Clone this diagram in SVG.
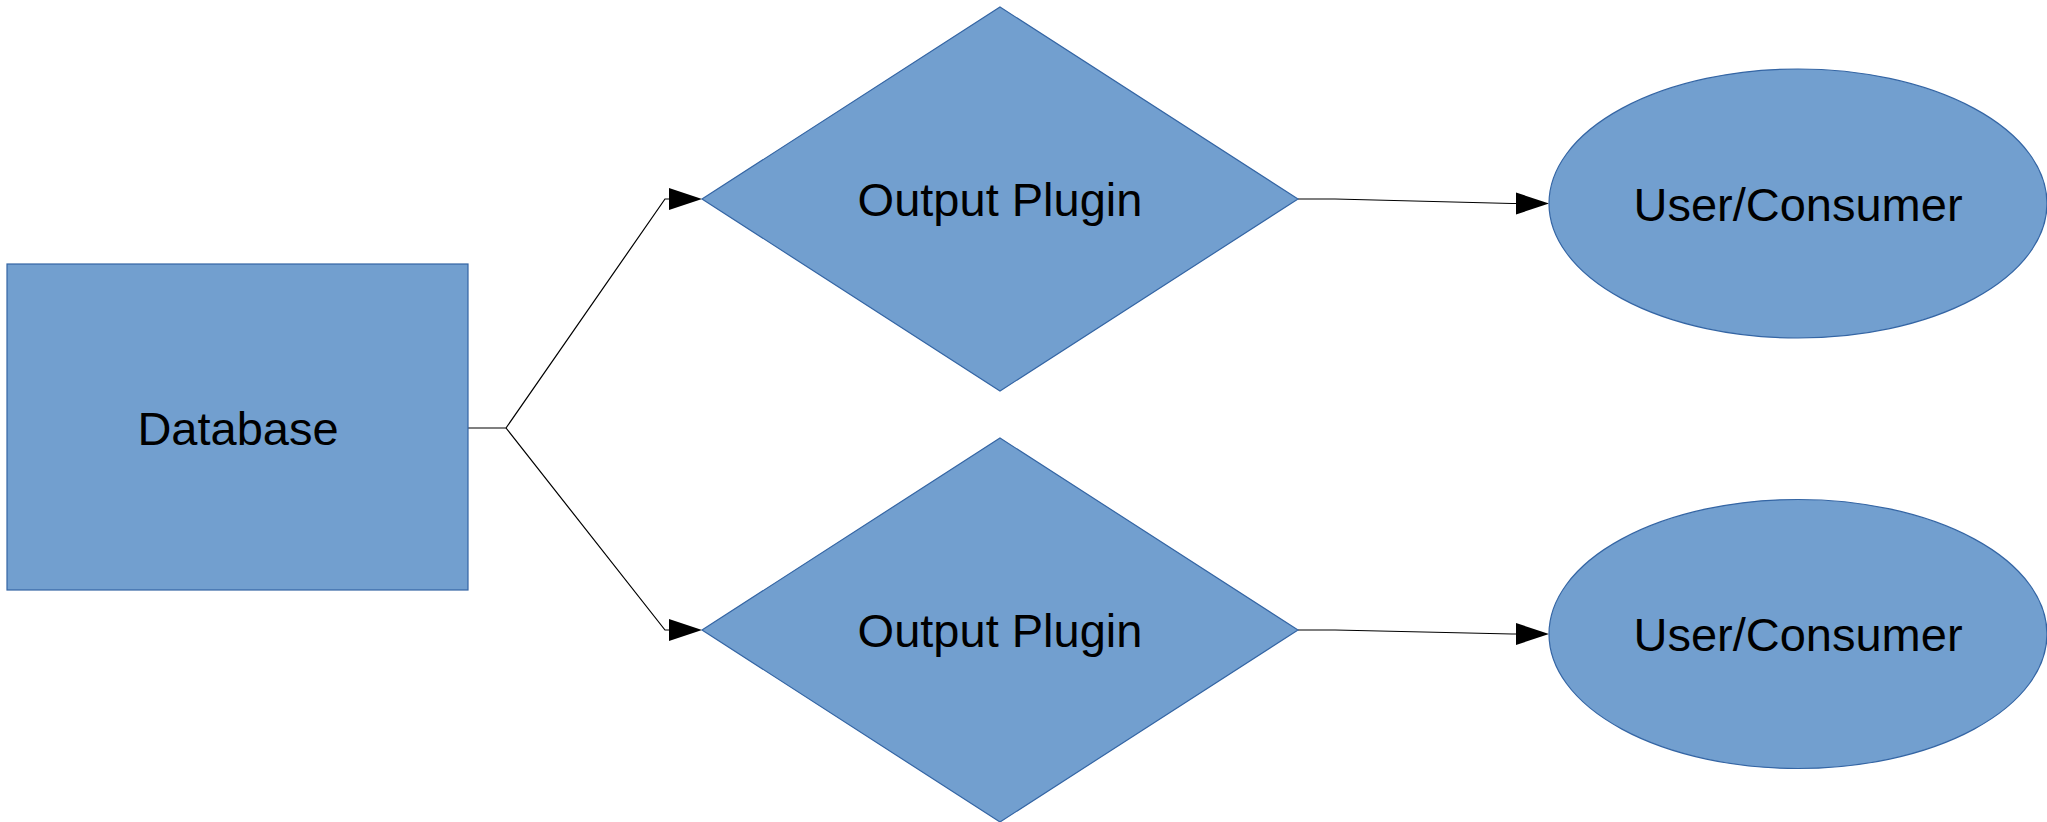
<svg xmlns="http://www.w3.org/2000/svg" width="2047" height="822" viewBox="0 0 2047 822">
  <style>
    .shape { fill: #729fcf; stroke: #3465a4; stroke-width: 1.2; }
    .label { font-family: "Liberation Sans", Arial, sans-serif; font-size: 47px; fill: #000; text-anchor: middle; }
    .conn { fill: none; stroke: #000; stroke-width: 1.2; stroke-linejoin: miter; }
  </style>
  <defs>
    <marker id="arrow" markerUnits="userSpaceOnUse" markerWidth="34" markerHeight="24" refX="0" refY="11" orient="auto" overflow="visible">
      <path d="M0,0 L33,11 L0,22 Z" fill="#000"/>
    </marker>
  </defs>
  <rect width="2047" height="822" fill="#fff"/>

  <g id="connectors">
    <path class="conn" d="M468,428 L506,428 L665,199 L669,199" marker-end="url(#arrow)"/>
    <path class="conn" d="M506,428 L665,630 L669,630"  marker-end="url(#arrow)"/>
    <path class="conn" d="M1298,199 L1335,199 L1512,203.5 L1516,203.5" marker-end="url(#arrow)"/>
    <path class="conn" d="M1298,630 L1335,630 L1512,634 L1516,634" marker-end="url(#arrow)"/>
  </g>

  <g id="database">
    <rect class="shape" x="7" y="264" width="461" height="326"/>
    <text class="label" x="238" y="445">Database</text>
  </g>

  <g id="output-plugin-1">
    <polygon class="shape" points="1000,7 1298,199 1000,391 702,199"/>
    <text class="label" x="1000" y="216">Output Plugin</text>
  </g>

  <g id="output-plugin-2">
    <polygon class="shape" points="1000,438 1298,630 1000,822 702,630"/>
    <text class="label" x="1000" y="647">Output Plugin</text>
  </g>

  <g id="consumer-1">
    <ellipse class="shape" cx="1798" cy="203.5" rx="249" ry="134.5"/>
    <text class="label" x="1798" y="220.5">User/Consumer</text>
  </g>

  <g id="consumer-2">
    <ellipse class="shape" cx="1798" cy="634" rx="249" ry="134.5"/>
    <text class="label" x="1798" y="651">User/Consumer</text>
  </g>
</svg>
